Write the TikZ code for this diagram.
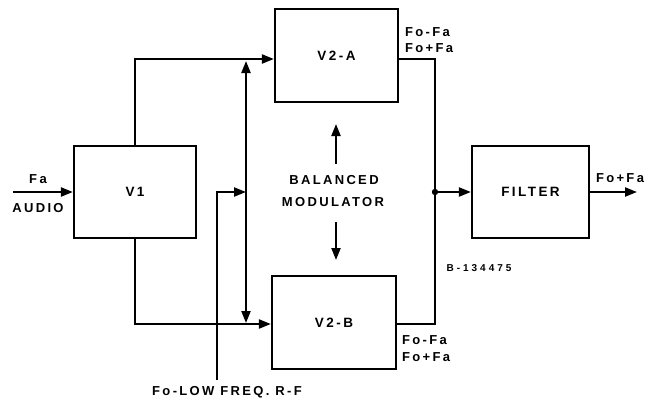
\documentclass[tikz,border=0pt]{standalone}
\usepackage{fontspec}
\setmainfont{Liberation Sans}
\usetikzlibrary{arrows.meta}
\newfontfamily\lbl[LetterSpace=18]{Liberation Sans Bold}
\newfontfamily\lblw[LetterSpace=30]{Liberation Sans Bold}
\begin{document}
\begin{tikzpicture}[x=1pt,y=-1pt,
  line width=2.2pt,
  tip/.style={-{Triangle[length=12pt,width=9pt]}},
  blk/.style={draw,line width=2.2pt,minimum width=#1,minimum height=93pt,inner sep=0pt,font=\lbl\fontsize{13.5}{14}\selectfont},
  txt/.style={inner sep=0pt,font=\lbl\fontsize{13}{14}\selectfont},
  smalltxt/.style={inner sep=0pt,font=\lblw\fontsize{10}{11}\selectfont}]
\useasboundingbox (0,0) rectangle (651,400);
% blocks
\node[blk=122pt,minimum height=92pt] (v1) at (135,192) {V1};
\node[blk=123pt] (v2a) at (336.5,55.5) {V2-A};
\node[blk=124pt] (v2b) at (334,322.5) {V2-B};
\node[blk=117pt,minimum height=92pt] (filt) at (530.5,192) {FILTER};
% coordinates
\coordinate (in) at (13,192);
\coordinate (out) at (637,192);
\coordinate (rft) at (246,59);
\coordinate (rfb) at (246,324);
\coordinate (rfin) at (217,380);
\coordinate (rfj) at (246,192);
\coordinate (sumt) at (435,59);
\coordinate (sumb) at (435,324);
\coordinate (dot) at (435,192);
\coordinate (upt) at (336,124);
\coordinate (dnt) at (336,260);
% labels
\node[txt] (fa) at (38,179) {Fa};
\node[txt] (audio) at (38,208) {AUDIO};
\node[txt] (bal) at (334,180) {BALANCED};
\node[txt] (mod) at (333,202) {MODULATOR};
\node[txt,anchor=west] (a1) at (404,32) {Fo-Fa};
\node[txt,anchor=west] (a2) at (404,48) {Fo+Fa};
\node[txt,anchor=west] (b1) at (401,340) {Fo-Fa};
\node[txt,anchor=west] (b2) at (401,357) {Fo+Fa};
\node[txt] (o1) at (620,178) {Fo+Fa};
\node[smalltxt] (bn) at (479,268) {B-134475};
\node[txt] (rfl) at (227,392) {Fo-LOW FREQ. R-F};
% connectors
\draw[tip] (in) -- (v1.west);
\draw[tip] (v1.north) |- ([yshift=-3.5pt]v2a.west);
\draw[tip] (v1.south) |- ([yshift=-1.5pt]v2b.west);
\draw[{Triangle[length=12pt,width=9pt]}-{Triangle[length=12pt,width=9pt]}] ([yshift=-2pt]rft) -- ([yshift=1pt]rfb);
\draw[tip] (rfin) |- (rfj);
\draw ([yshift=-3.5pt]v2a.east) -- (sumt) -- (sumb) -- ([yshift=-1.5pt]v2b.east);
\fill (dot) circle (3.2pt);
\draw[tip] (dot) -- (filt.west);
\draw[tip] (filt.east) -- (out);
\draw[tip] ([yshift=-40pt]upt) -- (upt);
\draw[tip] ([yshift=38pt]dnt) -- (dnt);
\end{tikzpicture}
\end{document}
